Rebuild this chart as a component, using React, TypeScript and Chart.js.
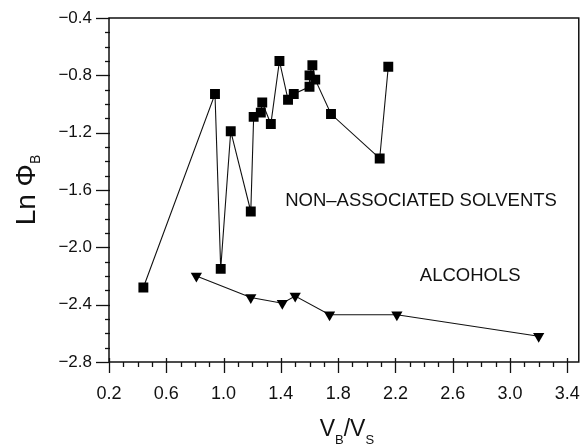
import { useEffect, useRef } from "react";
import { Chart, registerables } from "chart.js";

Chart.register(...registerables);

// ---- data ----
const nonAssocX = [0.44, 0.94, 0.98, 1.05, 1.19, 1.21, 1.26, 1.27, 1.33, 1.39, 1.45, 1.49, 1.6, 1.6, 1.62, 1.64, 1.75, 2.09, 2.15];
const nonAssocY = [-2.28, -0.93, -2.15, -1.19, -1.75, -1.09, -1.06, -0.99, -1.14, -0.7, -0.97, -0.93, -0.88, -0.8, -0.73, -0.83, -1.07, -1.38, -0.74];
const alcoholX = [0.81, 1.19, 1.41, 1.5, 1.74, 2.21, 3.2];
const alcoholY = [-2.2, -2.35, -2.39, -2.34, -2.47, -2.47, -2.62];

const xTickLabels = ["0.2", "0.6", "1.0", "1.4", "1.8", "2.2", "2.6", "3.0", "3.4"];
const yTickLabels = ["−0.4", "−0.8", "−1.2", "−1.6", "−2.0", "−2.4", "−2.8"];

const seriesNames = ["NON–ASSOCIATED SOLVENTS", "ALCOHOLS"];
const seriesLabelX = [1.43, 2.37];
const seriesLabelY = [-1.677, -2.197];

const FONT = '"Liberation Sans", Arial, Helvetica, sans-serif';
const INK = "#111";

const parseLabel = (s: string) => parseFloat(s.replace("−", "-"));

const framePlugin = {
  id: "framePlugin",
  afterDraw(chart: any) {
    const { ctx, chartArea: a, scales } = chart;
    const xs = scales.x;
    const ys = scales.y;
    ctx.save();
    ctx.strokeStyle = INK;
    ctx.lineWidth = 1.5;
    ctx.strokeRect(a.left, a.top, a.right - a.left, a.bottom - a.top);

    // y ticks
    ctx.lineWidth = 1.3;
    for (let i = 0; i <= 24; i++) {
      const v = -2.8 + i * 0.1;
      const p = Math.round(ys.getPixelForValue(v)) + 0.5;
      const major = i % 4 === 0;
      ctx.beginPath();
      ctx.moveTo(a.left - (major ? 13 : 4), p);
      ctx.lineTo(a.left + 1, p);
      ctx.stroke();
    }
    // x ticks
    for (let i = 0; i <= 32; i++) {
      const v = 0.2 + i * 0.1;
      const p = Math.round(xs.getPixelForValue(v)) + 0.5;
      const major = i % 4 === 0;
      ctx.beginPath();
      ctx.moveTo(p, a.bottom - (major ? 4 : 0));
      ctx.lineTo(p, a.bottom + (major ? 11 : 5));
      ctx.stroke();
    }

    // series labels
    ctx.fillStyle = INK;
    ctx.font = `18.5px ${FONT}`;
    ctx.textAlign = "left";
    ctx.textBaseline = "middle";
    seriesNames.forEach((t, i) => {
      ctx.fillText(t, xs.getPixelForValue(seriesLabelX[i]), ys.getPixelForValue(seriesLabelY[i]));
    });

    // x axis title V_B / V_S
    ctx.textBaseline = "alphabetic";
    const big = `23px ${FONT}`;
    const small = `13px ${FONT}`;
    const parts: [string, string, number][] = [
      ["V", big, 0],
      ["B", small, 8],
      ["/", big, 0],
      ["V", big, 0],
      ["S", small, 8],
    ];
    let total = 0;
    parts.forEach(([t, f]) => {
      ctx.font = f;
      total += ctx.measureText(t).width;
    });
    let cx = (a.left + a.right) / 2 + 3 - total / 2;
    const base = 436;
    parts.forEach(([t, f, dy]) => {
      ctx.font = f;
      ctx.fillText(t, cx, base + dy);
      cx += ctx.measureText(t).width;
    });

    // y axis title Ln Φ_B
    const yParts: [string, string, number][] = [
      ["Ln Φ", `28px ${FONT}`, 0],
      ["B", `14px ${FONT}`, 5],
    ];
    let ytotal = 0;
    yParts.forEach(([t, f]) => {
      ctx.font = f;
      ytotal += ctx.measureText(t).width;
    });
    ctx.translate(35, (a.top + a.bottom) / 2);
    ctx.rotate(-Math.PI / 2);
    let ux = -ytotal / 2;
    yParts.forEach(([t, f, dy]) => {
      ctx.font = f;
      ctx.fillText(t, ux, dy);
      ux += ctx.measureText(t).width;
    });
    ctx.restore();
  },
};

export default function App() {
  const ref = useRef<HTMLCanvasElement>(null);
  useEffect(() => {
    const canvas = ref.current;
    if (!canvas) return;
    const chart = new Chart(canvas, {
      type: "line",
      data: {
        datasets: [
          {
            label: seriesNames[0],
            data: nonAssocX.map((x, i) => ({ x, y: nonAssocY[i] })),
            borderColor: INK,
            borderWidth: 1.1,
            backgroundColor: "#000",
            pointBackgroundColor: "#000",
            pointBorderColor: "#000",
            pointBorderWidth: 0,
            pointStyle: "rect",
            pointRadius: 7,
            tension: 0,
          },
          {
            label: seriesNames[1],
            data: alcoholX.map((x, i) => ({ x, y: alcoholY[i] })),
            borderColor: INK,
            borderWidth: 1.1,
            backgroundColor: "#000",
            pointBackgroundColor: "#000",
            pointBorderColor: "#000",
            pointBorderWidth: 0,
            pointStyle: "triangle",
            pointRotation: 180,
            pointRadius: 6.5,
            tension: 0,
          },
        ],
      },
      options: {
        animation: false,
        responsive: false,
        devicePixelRatio: 1,
        layout: { padding: { left: 0, top: 18, right: 6, bottom: 0 } },
        plugins: {
          legend: { display: false },
          tooltip: { enabled: false },
        },
        scales: {
          x: {
            type: "linear",
            min: 0.2,
            max: 3.48,
            border: { display: false },
            grid: { color: "transparent", tickColor: "transparent", drawOnChartArea: false, drawTicks: true, tickLength: 13 },
            afterBuildTicks: (scale: any) => {
              scale.ticks = xTickLabels.map((l) => ({ value: parseLabel(l) }));
            },
            afterFit: (scale: any) => {
              scale.height = 84;
            },
            ticks: {
              autoSkip: false,
              maxRotation: 0,
              padding: 8,
              color: INK,
              font: { family: FONT, size: 18 },
              callback: (_v: any, i: number) => xTickLabels[i],
            },
          },
          y: {
            type: "linear",
            min: -2.8,
            max: -0.4,
            border: { display: false },
            grid: { color: "transparent", tickColor: "transparent", drawOnChartArea: false, drawTicks: true, tickLength: 13 },
            afterBuildTicks: (scale: any) => {
              scale.ticks = yTickLabels.map((l) => ({ value: parseLabel(l) }));
            },
            afterFit: (scale: any) => {
              scale.width = 109;
            },
            ticks: {
              autoSkip: false,
              padding: 4,
              color: INK,
              font: { family: FONT, size: 17 },
              callback: (v: any) => {
                const found = yTickLabels.find((l) => Math.abs(parseLabel(l) - Number(v)) < 1e-6);
                return found ?? "";
              },
            },
          },
        },
      },
      plugins: [framePlugin],
    } as any);
    return () => chart.destroy();
  }, []);

  return (
    <div style={{ position: "fixed", left: 0, top: 0, width: 588, height: 446, background: "#fff" }}>
      <canvas ref={ref} width={588} height={446} style={{ display: "block", width: 588, height: 446 }} />
    </div>
  );
}
